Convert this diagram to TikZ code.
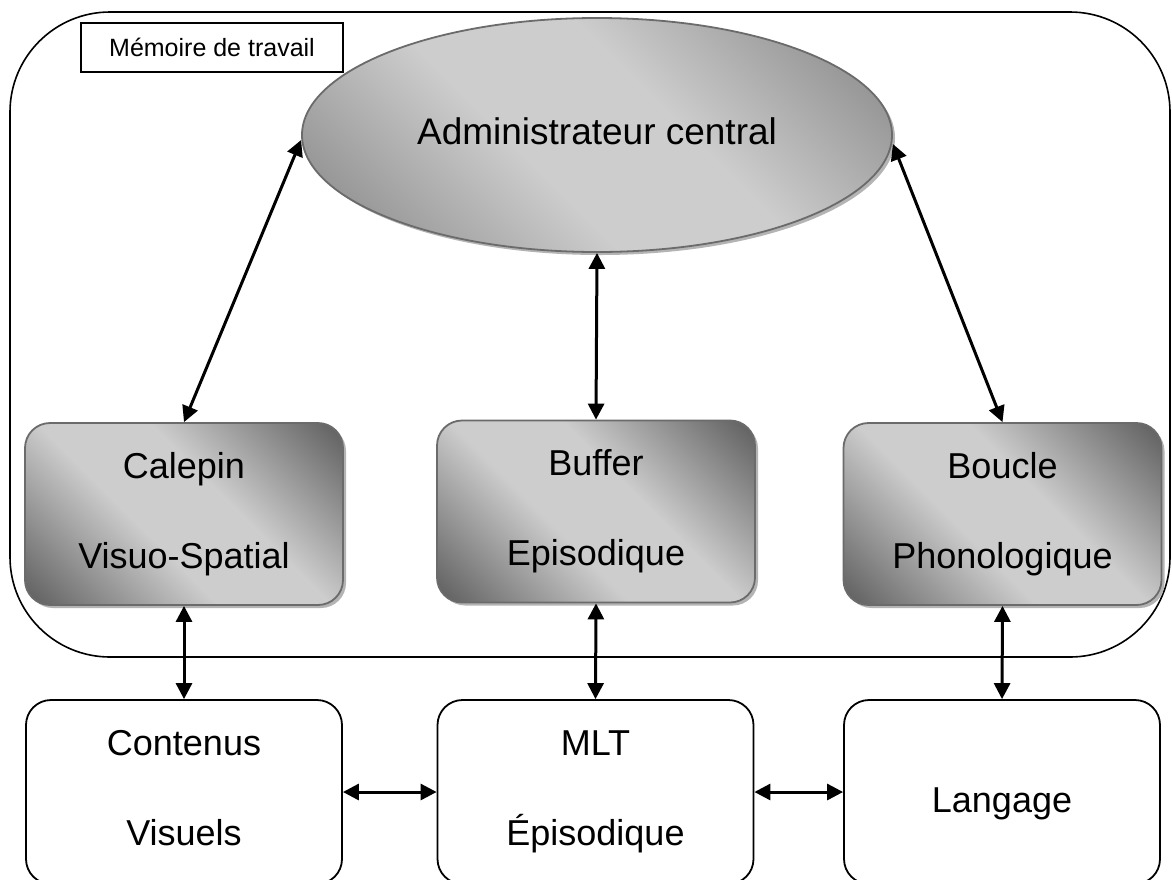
\documentclass[tikz,border=0pt]{standalone}
\usepackage{fontspec}
\setmainfont{Liberation Sans}
\usetikzlibrary{shapes.geometric,arrows.meta,shadows}
\definecolor{edgegray}{HTML}{6B6B6B}
\definecolor{darkshade}{HTML}{626262}
\definecolor{lightshade}{HTML}{CDCDCD}
\definecolor{ellipsedark}{HTML}{858585}
\definecolor{shadowgray}{HTML}{B4B4B4}
\pgfdeclareverticalshading{boxband}{100bp}{color(0bp)=(darkshade); color(16bp)=(darkshade); color(42bp)=(lightshade); color(58bp)=(lightshade); color(84bp)=(darkshade); color(100bp)=(darkshade)}
\pgfdeclareverticalshading{ellband}{100bp}{color(0bp)=(ellipsedark); color(16bp)=(ellipsedark); color(42bp)=(lightshade); color(58bp)=(lightshade); color(84bp)=(ellipsedark); color(100bp)=(ellipsedark)}
\tikzset{
  bigfont/.style={font=\fontsize{36}{90}\selectfont},
  shadedbox/.style={draw=edgegray, line width=1.8pt, rounded corners=25pt,
    minimum width=318pt, minimum height=182pt, inner sep=0pt, align=center,
    shading=boxband, shading angle=-45,
    drop shadow={shadow xshift=3pt, shadow yshift=-3pt, fill=shadowgray, opacity=1},
    bigfont},
  plainbox/.style={draw=black, line width=1.8pt, rounded corners=25pt,
    minimum width=316pt, minimum height=184pt, inner sep=0pt, align=center, fill=white, bigfont},
  link/.style={line width=3pt, {Triangle[length=16pt,width=16pt]}-{Triangle[length=16pt,width=16pt]}}
}
\begin{document}
\begin{tikzpicture}[x=1pt,y=-1pt]
\useasboundingbox (0,0) rectangle (1172,879);
\clip (0,0) rectangle (1172,879);
\fill[white] (0,0) rectangle (1172,879);
% outer working memory frame
\node[draw=black, line width=1.6pt, rounded corners=100pt, minimum width=1160pt, minimum height=645pt, inner sep=0pt] (wm) at (590,334.5) {};
\node[draw=black, line width=1.6pt, minimum width=262pt, minimum height=49pt, inner sep=0pt, font=\fontsize{25}{30}\selectfont] (title) at (212,47.5) {Mémoire de travail};
% central executive
\node[ellipse, draw=edgegray, line width=1.8pt, minimum width=590pt, minimum height=234pt, inner sep=0pt,
  shading=ellband, shading angle=-45,
  drop shadow={shadow xshift=3pt, shadow yshift=-3pt, fill=shadowgray, opacity=1},
  font=\fontsize{37}{44}\selectfont] (adm) at (597,135) {\raisebox{4pt}[27pt][0pt]{Administrateur central}};
% slave systems
\node[shadedbox] (cal) at (184,514) {Calepin\\Visuo-Spatial};
\node[shadedbox] (buf) at (596,511.5) {Buffer\\Episodique};
\node[shadedbox] (bou) at (1002.5,514) {Boucle\\Phonologique};
% long term
\node[plainbox] (con) at (184,792) {Contenus\\Visuels\vphantom{p}};
\node[plainbox] (mlt) at (595.5,792) {MLT\\Épisodique};
\node[plainbox] (lan) at (1002,792) {\raisebox{-11pt}[26pt][7pt]{Langage}};
% connectors
\draw[link] ([yshift=-5pt]adm.west) -- (cal.north);
\draw[link] (adm.south) -- (buf.north);
\draw[link] ([yshift=-9pt]adm.east) -- (bou.north);
\draw[link] (cal.south) -- (con.north);
\draw[link] (buf.south) -- (mlt.north);
\draw[link] (bou.south) -- (lan.north);
\draw[link] (con.east) -- (mlt.west);
\draw[link] (mlt.east) -- (lan.west);
\end{tikzpicture}
\end{document}
